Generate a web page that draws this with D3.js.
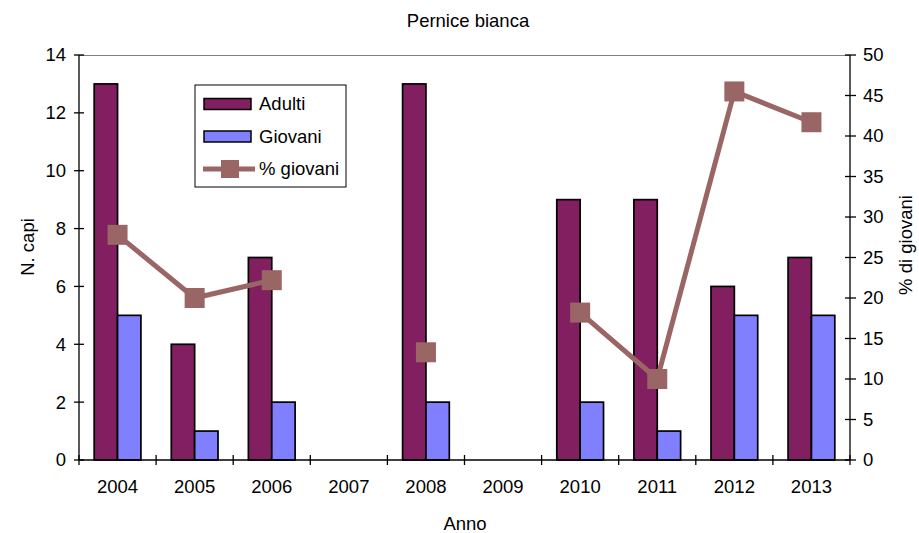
<!DOCTYPE html>
<html>
<head>
<meta charset="utf-8">
<script src="https://cdn.jsdelivr.net/npm/d3@7"></script>
<style>
  body { margin: 0; background: #fff; }
  text { font-family: "Liberation Sans", Arial, sans-serif; fill: #000; }
</style>
</head>
<body>
<div id="chart"></div>
<script>
// Data
var years = ["2004", "2005", "2006", "2007", "2008", "2009", "2010", "2011", "2012", "2013"];
var adulti = [13, 4, 7, 0, 13, 0, 9, 9, 6, 7];
var giovani = [5, 1, 2, 0, 2, 0, 2, 1, 5, 5];
var percGiovani = [27.8, 20, 22.2, null, 13.3, null, 18.2, 10, 45.5, 41.7];
var leftTicks = [0, 2, 4, 6, 8, 10, 12, 14];
var rightTicks = [0, 5, 10, 15, 20, 25, 30, 35, 40, 45, 50];

// Basic size information
var W = 919, H = 533,
    margin = {top: 55, right: 69, bottom: 73, left: 79},
    width = W - margin.left - margin.right,
    height = H - margin.top - margin.bottom;

var colAdulti = "#821f60",
    colGiovani = "#8080ff",
    colLine = "#9a6565";

var svg = d3.select("#chart").append("svg")
    .attr("width", W)
    .attr("height", H);

var g = svg.append("g")
    .attr("transform", "translate(" + margin.left + "," + margin.top + ")");

// Scales
var x = d3.scaleBand().domain(years).range([0, width]).padding(0);
var xs = d3.scaleBand().domain(["Adulti", "Giovani"]).range([0, x.bandwidth()])
    .paddingInner(0).paddingOuter(0.65);
var y = d3.scaleLinear().domain([0, 14]).range([height, 0]);
var y2 = d3.scaleLinear().domain([0, 50]).range([height, 0]);

// Top border of plot area
g.append("line")
    .attr("x1", 0).attr("x2", width)
    .attr("y1", 0.5).attr("y2", 0.5)
    .attr("stroke", "#808080").attr("stroke-width", 1);

// Bars: one entry per non-zero value
var barData = [];
years.forEach(function (yr, i) {
    if (adulti[i] > 0) barData.push({year: yr, key: "Adulti", v: adulti[i], color: colAdulti});
    if (giovani[i] > 0) barData.push({year: yr, key: "Giovani", v: giovani[i], color: colGiovani});
});

g.selectAll(".bar")
    .data(barData)
    .enter().append("rect")
    .attr("class", "bar")
    .attr("x", function (d) { return x(d.year) + xs(d.key); })
    .attr("y", function (d) { return y(d.v); })
    .attr("width", xs.bandwidth())
    .attr("height", function (d) { return height - y(d.v); })
    .attr("fill", function (d) { return d.color; })
    .attr("stroke", "#000").attr("stroke-width", 1.7);

// Axes
var xAxis = g.append("g")
    .attr("transform", "translate(0," + height + ")");
xAxis.append("line")
    .attr("x1", 0).attr("x2", width).attr("y1", 0).attr("y2", 0)
    .attr("stroke", "#000").attr("stroke-width", 1.3);
var xTickPos = years.map(function (d) { return x(d); }).concat([width]);
xAxis.selectAll(".xt")
    .data(xTickPos)
    .enter().append("line")
    .attr("x1", function (d) { return d; }).attr("x2", function (d) { return d; })
    .attr("y1", -5).attr("y2", 5)
    .attr("stroke", "#000").attr("stroke-width", 1.3);
xAxis.selectAll(".xl")
    .data(years)
    .enter().append("text")
    .attr("x", function (d) { return x(d) + x.bandwidth() / 2; })
    .attr("y", 33)
    .attr("text-anchor", "middle")
    .style("font-size", "18.5px")
    .text(function (d) { return d; });

var yAxis = g.append("g");
yAxis.append("line")
    .attr("x1", 0).attr("x2", 0).attr("y1", 0).attr("y2", height)
    .attr("stroke", "#000").attr("stroke-width", 1.3);
yAxis.selectAll(".yt")
    .data(leftTicks)
    .enter().append("line")
    .attr("x1", -5).attr("x2", 5)
    .attr("y1", function (d) { return y(d); }).attr("y2", function (d) { return y(d); })
    .attr("stroke", "#000").attr("stroke-width", 1.3);
yAxis.selectAll(".yl")
    .data(leftTicks)
    .enter().append("text")
    .attr("x", -13)
    .attr("y", function (d) { return y(d); })
    .attr("dy", "0.35em")
    .attr("text-anchor", "end")
    .style("font-size", "18.5px")
    .text(function (d) { return d; });

var y2Axis = g.append("g")
    .attr("transform", "translate(" + width + ",0)");
y2Axis.append("line")
    .attr("x1", 0).attr("x2", 0).attr("y1", 0).attr("y2", height)
    .attr("stroke", "#000").attr("stroke-width", 1.3);
y2Axis.selectAll(".yt")
    .data(rightTicks)
    .enter().append("line")
    .attr("x1", -5).attr("x2", 6)
    .attr("y1", function (d) { return y2(d); }).attr("y2", function (d) { return y2(d); })
    .attr("stroke", "#000").attr("stroke-width", 1.3);
y2Axis.selectAll(".yl")
    .data(rightTicks)
    .enter().append("text")
    .attr("x", 13)
    .attr("y", function (d) { return y2(d); })
    .attr("dy", "0.35em")
    .attr("text-anchor", "start")
    .style("font-size", "18.5px")
    .text(function (d) { return d; });

// % giovani line
var pts = years.map(function (d, i) { return {year: d, v: percGiovani[i]}; });
var line = d3.line()
    .defined(function (d) { return d.v !== null; })
    .x(function (d) { return x(d.year) + x.bandwidth() / 2; })
    .y(function (d) { return y2(d.v); });

g.append("path")
    .datum(pts)
    .attr("d", line)
    .attr("fill", "none")
    .attr("stroke", colLine)
    .attr("stroke-width", 5);

var ms = 20;
g.selectAll(".marker")
    .data(pts.filter(function (d) { return d.v !== null; }))
    .enter().append("rect")
    .attr("x", function (d) { return x(d.year) + x.bandwidth() / 2 - ms / 2; })
    .attr("y", function (d) { return y2(d.v) - ms / 2; })
    .attr("width", ms).attr("height", ms)
    .attr("fill", colLine);

// Titles
svg.append("text")
    .attr("x", 468).attr("y", 27)
    .attr("text-anchor", "middle")
    .style("font-size", "18.5px")
    .text("Pernice bianca");

svg.append("text")
    .attr("x", 465).attr("y", 530)
    .attr("text-anchor", "middle")
    .style("font-size", "18.5px")
    .text("Anno");

svg.append("text")
    .attr("transform", "translate(34,247) rotate(-90)")
    .attr("text-anchor", "middle")
    .style("font-size", "18.5px")
    .text("N. capi");

svg.append("text")
    .attr("transform", "translate(912,245) rotate(-90)")
    .attr("text-anchor", "middle")
    .style("font-size", "18.5px")
    .text("% di giovani");

// Legend
var legend = svg.append("g").attr("transform", "translate(195,85)");
legend.append("rect")
    .attr("x", 0).attr("y", 0).attr("width", 151).attr("height", 102)
    .attr("fill", "#fff").attr("stroke", "#000").attr("stroke-width", 1);

var legItems = [
    {name: "Adulti", color: colAdulti, type: "bar"},
    {name: "Giovani", color: colGiovani, type: "bar"},
    {name: "% giovani", color: colLine, type: "line"}
];
var li = legend.selectAll(".li")
    .data(legItems)
    .enter().append("g")
    .attr("transform", function (d, i) { return "translate(0," + (19 + i * 32.5) + ")"; });

li.filter(function (d) { return d.type === "bar"; })
    .append("rect")
    .attr("x", 9).attr("y", -5.5).attr("width", 47).attr("height", 11)
    .attr("fill", function (d) { return d.color; })
    .attr("stroke", "#000").attr("stroke-width", 1.5);

var ll = li.filter(function (d) { return d.type === "line"; });
ll.append("line")
    .attr("x1", 8).attr("x2", 60).attr("y1", 0).attr("y2", 0)
    .attr("stroke", colLine).attr("stroke-width", 5);
ll.append("rect")
    .attr("x", 26).attr("y", -9).attr("width", 18).attr("height", 18)
    .attr("fill", colLine);

li.append("text")
    .attr("x", 64).attr("y", 0).attr("dy", "0.35em")
    .style("font-size", "18.5px")
    .text(function (d) { return d.name; });
</script>
</body>
</html>
